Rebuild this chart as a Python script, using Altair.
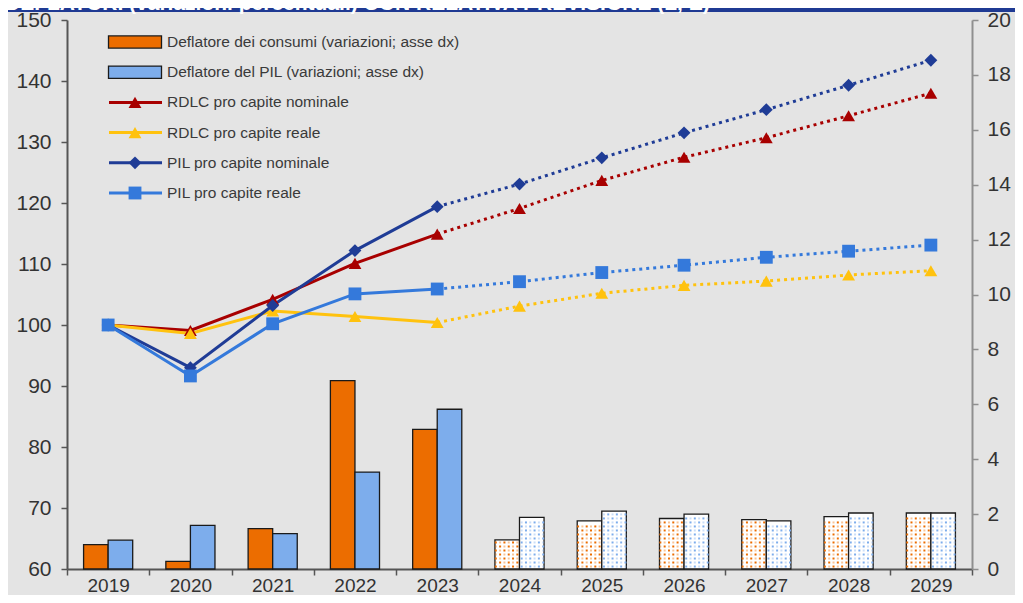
import altair as alt
import pandas as pd

years = ["2019", "2020", "2021", "2022", "2023", "2024", "2025", "2026", "2027", "2028", "2029"]
first_forecast_bar = "2024"
last_actual_line = "2023"

# right axis (percentage changes)
defl_consumi = [0.89, 0.28, 1.47, 6.86, 5.09, 1.06, 1.75, 1.84, 1.80, 1.91, 2.04]
defl_pil = [1.05, 1.59, 1.29, 3.53, 5.82, 1.88, 2.11, 2.00, 1.75, 2.04, 2.04]
# left axis (index 2019 = 100)
rdlc_nom = [100, 99.1, 104.2, 110.1, 114.9, 119.1, 123.7, 127.5, 130.7, 134.3, 138.0]
rdlc_real = [100, 98.6, 102.3, 101.4, 100.4, 103.1, 105.2, 106.5, 107.2, 108.2, 108.9]
pil_nom = [100, 93.0, 103.2, 112.2, 119.4, 123.1, 127.4, 131.5, 135.3, 139.3, 143.4]
pil_real = [100, 91.65, 100.2, 105.1, 105.9, 107.1, 108.6, 109.8, 111.1, 112.1, 113.1]

S_CONS = "Deflatore dei consumi (variazioni; asse dx)"
S_PILD = "Deflatore del PIL (variazioni; asse dx)"
S_RN = "RDLC pro capite nominale"
S_RR = "RDLC pro capite reale"
S_PN = "PIL pro capite nominale"
S_PR = "PIL pro capite reale"
series_all = [S_CONS, S_PILD, S_RN, S_RR, S_PN, S_PR]
colors_all = ["#EC6D00", "#7DADEC", "#A80000", "#FFC20E", "#1F3C96", "#3479DB"]
line_series = [S_RN, S_RR, S_PN, S_PR]
line_shapes = ["triangle-up", "triangle-up", "diamond", "square"]
line_sizes = [165, 165, 110, 200]
title_text = "DEFLATORI (variazioni percentuali) CON RELATIVA PREVISIONE (L, E)"

FONT = "Liberation Sans"

# ---------- tables ----------
bar_rows = []
for i, y in enumerate(years):
    fc = y >= first_forecast_bar
    bar_rows.append(dict(year=y, series=S_CONS, value=defl_consumi[i], fc=fc))
    bar_rows.append(dict(year=y, series=S_PILD, value=defl_pil[i], fc=fc))
bars_df = pd.DataFrame(bar_rows)

line_rows = []
for s, vals in zip(line_series, [rdlc_nom, rdlc_real, pil_nom, pil_real]):
    for i, y in enumerate(years):
        line_rows.append(dict(year=y, series=s, value=vals[i]))
lines_df = pd.DataFrame(line_rows)

# dot pattern for forecast bars
slots = [f"{a}{b}" for a in range(2) for b in range(6)]
slot_domain = [f"p{k}" for k in range(4)] + slots + [f"q{k}" for k in range(4)]
dot_rows = []
for i, y in enumerate(years):
    if y < first_forecast_bar:
        continue
    for si, (sname, vals) in enumerate([(S_CONS, defl_consumi), (S_PILD, defl_pil)]):
        v = vals[i]
        k = 0
        lvl = 0.09
        while lvl < v - 0.07:
            for j in range(6):
                dot_rows.append(dict(year=y, slot=f"{si}{j}", series=sname, value=lvl,
                                     tone=1.0 if (j + k) % 2 == 0 else 0.4))
            k += 1
            lvl = 0.09 + k * 0.146
dots_df = pd.DataFrame(dot_rows)

legend_df = pd.DataFrame(dict(
    row=list(range(6)),
    label=series_all,
    series=series_all,
    kind=["bar", "bar", "line", "line", "line", "line"],
))
title_df = pd.DataFrame(dict(t=[title_text]))

# ---------- encodings ----------
color = alt.Color("series:N", scale=alt.Scale(domain=series_all, range=colors_all), legend=None)
shape = alt.Shape("series:N", scale=alt.Scale(domain=line_series, range=line_shapes), legend=None)
size = alt.Size("series:N", scale=alt.Scale(domain=line_series, range=line_sizes), legend=None)

x_enc = alt.X(
    "year:O",
    scale=alt.Scale(domain=years, paddingInner=0, paddingOuter=0),
    axis=alt.Axis(title=None, labelAngle=0, tickBand="extent", domainColor="#555555",
                  domainWidth=2, tickColor="#555555", tickWidth=1.5, tickSize=6,
                  labelFontSize=19, labelColor="#333333", labelPadding=1, labelFont=FONT),
)
y_left = alt.Y(
    "value:Q",
    scale=alt.Scale(domain=[60, 150], nice=False, zero=False),
    axis=alt.Axis(orient="left", title=None, grid=False, values=list(range(60, 151, 10)),
                  domainColor="#555555", domainWidth=2, tickColor="#555555", tickWidth=1.5,
                  tickSize=6, labelFontSize=21, labelColor="#333333", labelPadding=10,
                  labelFont=FONT),
)
y_right = alt.Y(
    "value:Q",
    scale=alt.Scale(domain=[0, 20], nice=False),
    axis=alt.Axis(orient="right", title=None, grid=False, values=list(range(0, 21, 2)),
                  domainColor="#8F8F8F", domainWidth=2, tickColor="#8F8F8F", tickWidth=1.5,
                  tickSize=6, labelFontSize=21, labelColor="#333333", labelPadding=9,
                  labelFont=FONT),
)
xoff_bars = alt.XOffset("series:N", scale=alt.Scale(domain=[S_CONS, S_PILD], paddingInner=0,
                                                    paddingOuter=0.675))
xoff_dots = alt.XOffset("slot:N", scale=alt.Scale(domain=slot_domain, paddingInner=0,
                                                  paddingOuter=0.05))

# ---------- bars ----------
bar_solid = alt.Chart(bars_df).transform_filter("!datum.fc").mark_bar(
    stroke="#1a1a1a", strokeWidth=1.3
).encode(x=x_enc, xOffset=xoff_bars, y=y_right, color=color)

bar_fc = alt.Chart(bars_df).transform_filter("datum.fc").mark_bar(
    fill="white", stroke="#1a1a1a", strokeWidth=1.3
).encode(x=x_enc, xOffset=xoff_bars, y=y_right)

dots = alt.Chart(dots_df).mark_square(size=4, strokeWidth=0).encode(
    x=x_enc, xOffset=xoff_dots, y=y_right, color=color,
    opacity=alt.Opacity("tone:Q", scale=None),
)

bars_group = alt.layer(bar_solid, bar_fc, dots).resolve_scale(xOffset="independent")

# ---------- lines ----------
line_solid = alt.Chart(lines_df).transform_filter(
    f"datum.year <= '{last_actual_line}'"
).mark_line(strokeWidth=3).encode(x=x_enc, y=y_left, color=color, detail="series:N")

line_dot = alt.Chart(lines_df).transform_filter(
    f"datum.year >= '{last_actual_line}'"
).mark_line(strokeWidth=3, strokeDash=[3, 4]).encode(x=x_enc, y=y_left, color=color,
                                                      detail="series:N")

points = alt.Chart(lines_df).mark_point(filled=True, opacity=1).encode(
    x=x_enc, y=y_left, color=color, shape=shape, size=size
)

lines_group = alt.layer(line_solid, line_dot, points)

# ---------- legend ----------
y_leg = alt.Y("row:Q", scale=alt.Scale(domain=[0, 5], range=[22, 173]), axis=None)

leg_box = alt.Chart(legend_df).transform_filter("datum.kind == 'bar'").mark_point(
    shape="M-1,-0.23H1V0.23H-1Z", size=2809, filled=True, opacity=1
).encode(x=alt.value(68), y=y_leg, color=color, stroke=alt.value("#1a1a1a"),
         strokeWidth=alt.value(1.3))

leg_line = alt.Chart(legend_df).transform_filter("datum.kind == 'line'").mark_rule(
    strokeWidth=3
).encode(x=alt.value(42), x2=alt.value(95), y=y_leg, color=color)

leg_mark = alt.Chart(legend_df).transform_filter("datum.kind == 'line'").mark_point(
    filled=True, opacity=1
).encode(x=alt.value(68), y=y_leg, color=color, shape=shape, size=size)

leg_text = alt.Chart(legend_df).mark_text(
    align="left", baseline="middle", fontSize=15.5, font=FONT, color="#3a3a3a"
).encode(x=alt.value(100), y=y_leg, text="label:N")

legend_group = alt.layer(leg_box, leg_line, leg_mark, leg_text)

# ---------- title band ----------
band = alt.Chart(title_df).mark_rect(color="#1F3A93").encode(
    x=alt.value(-59), x2=alt.value(948), y=alt.value(-12), y2=alt.value(-8)
)
band_text = alt.Chart(title_df).mark_text(
    align="left", baseline="alphabetic", fontSize=21, fontWeight="bold", font=FONT, color="white"
).encode(x=alt.value(-62), y=alt.value(-10.5), text="t:N")

chart = alt.layer(bars_group, lines_group, legend_group, band, band_text).resolve_scale(
    y="independent"
).properties(
    width=905, height=549,
    autosize=alt.AutoSizeParams(type="none"),
    padding={"left": 59, "top": 12, "right": 43, "bottom": 26},
).configure(background="#E4E4E4").configure_view(stroke=None)

chart.save("out.html", embed_options={"renderer": "svg", "actions": False})
